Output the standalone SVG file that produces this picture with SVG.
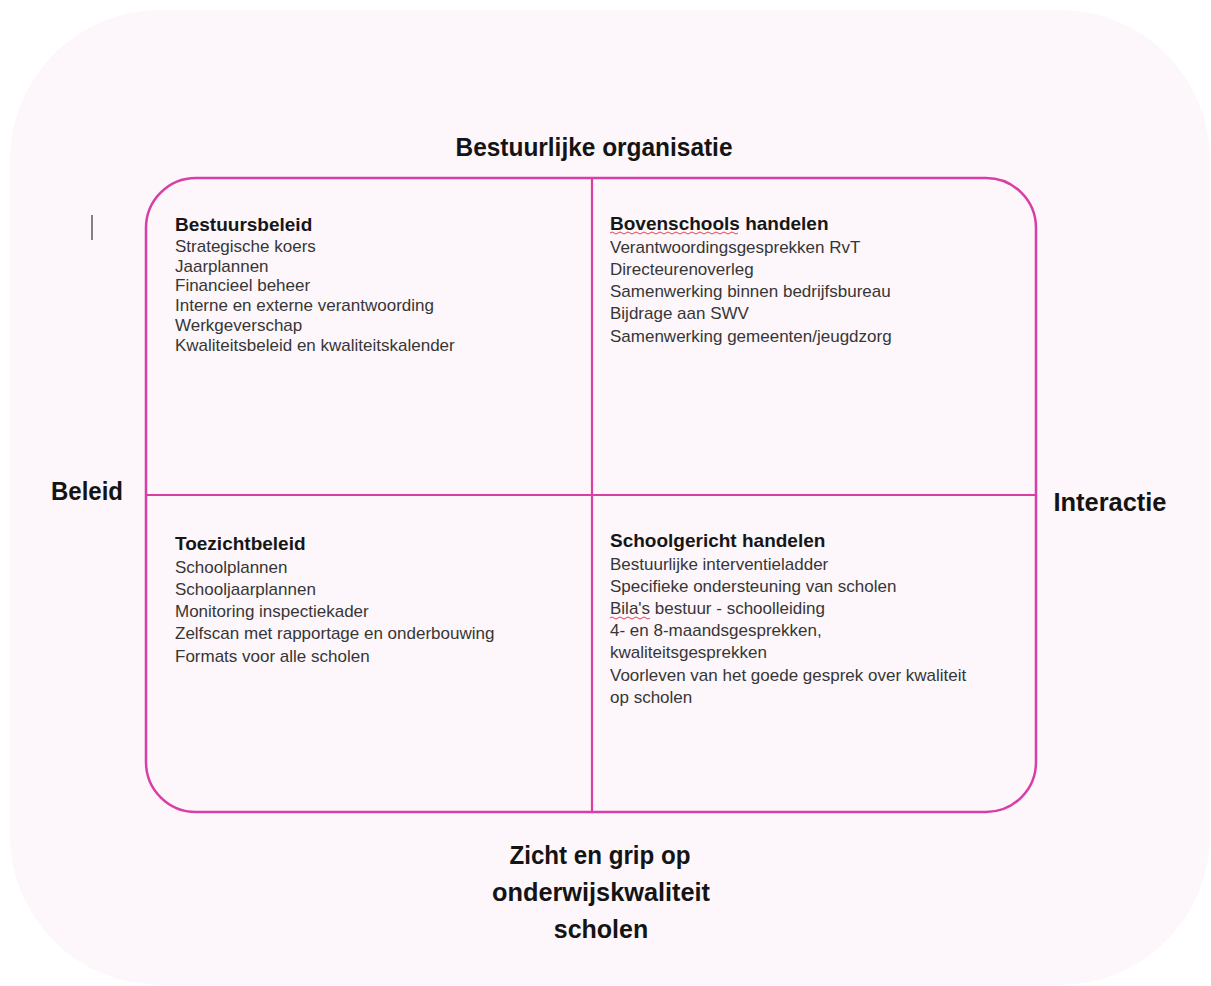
<svg xmlns="http://www.w3.org/2000/svg" width="1211" height="986" viewBox="0 0 1211 986">
<defs>
<style>
.bg{fill:#fdf6fb;stroke:none}
.frame{fill:none;stroke:#d73fa7;stroke-width:2.5}
.div{stroke:#d73fa7;stroke-width:2.2;fill:none}
.axis{font-family:"Liberation Sans",Arial,sans-serif;font-weight:bold;font-size:25px;fill:#141414}
.ttl{font-family:"Liberation Sans",Arial,sans-serif;font-weight:bold;font-size:19px;fill:#161616}
.item{font-family:"Liberation Sans",Arial,sans-serif;font-size:17px;fill:#363636}
.wave{fill:none;stroke:#e0454f;stroke-width:1}
</style>
</defs>
<rect width="1211" height="986" fill="#ffffff"/>
<rect class="bg" x="10" y="10" width="1200" height="975" rx="150" ry="150"/>
<line x1="92" y1="215" x2="92" y2="240" stroke="#333" stroke-width="1.2"/>

<g id="connectors">
<rect class="frame" x="146" y="178" width="890" height="634" rx="50" ry="50"/>
<line class="div" x1="592" y1="178" x2="592" y2="812"/>
<line class="div" x1="146" y1="495" x2="1036" y2="495"/>
</g>

<g id="axis-top"><text class="axis" x="594" y="156" text-anchor="middle" textLength="277" lengthAdjust="spacingAndGlyphs">Bestuurlijke organisatie</text></g>
<g id="axis-left"><text class="axis" x="87" y="500" text-anchor="middle" textLength="72" lengthAdjust="spacingAndGlyphs">Beleid</text></g>
<g id="axis-right"><text class="axis" x="1110" y="511" text-anchor="middle" textLength="113" lengthAdjust="spacingAndGlyphs">Interactie</text></g>
<g id="axis-bottom">
<text class="axis" x="600" y="864" text-anchor="middle" textLength="181" lengthAdjust="spacingAndGlyphs">Zicht en grip op</text>
<text class="axis" x="601" y="901" text-anchor="middle" textLength="218" lengthAdjust="spacingAndGlyphs">onderwijskwaliteit</text>
<text class="axis" x="601" y="938" text-anchor="middle">scholen</text>
</g>

<g id="bestuursbeleid">
<text class="ttl" x="175" y="231">Bestuursbeleid</text>
<text class="item" x="175" y="252">Strategische koers</text>
<text class="item" x="175" y="272">Jaarplannen</text>
<text class="item" x="175" y="291">Financieel beheer</text>
<text class="item" x="175" y="311">Interne en externe verantwoording</text>
<text class="item" x="175" y="331">Werkgeverschap</text>
<text class="item" x="175" y="351">Kwaliteitsbeleid en kwaliteitskalender</text>
</g>

<g id="bovenschools-handelen">
<text class="ttl" x="610" y="230">Bovenschools handelen</text>
<path class="wave" d="M610 233 q2 -2 4 0 t4 0 t4 0 t4 0 t4 0 t4 0 t4 0 t4 0 t4 0 t4 0 t4 0 t4 0 t4 0 t4 0 t4 0 t4 0 t4 0 t4 0 t4 0 t4 0 t4 0 t4 0 t4 0 t4 0 t4 0 t4 0 t4 0 t4 0 t4 0 t4 0 t4 0 t4 0"/>
<text class="item" x="610" y="253">Verantwoordingsgesprekken RvT</text>
<text class="item" x="610" y="275">Directeurenoverleg</text>
<text class="item" x="610" y="297">Samenwerking binnen bedrijfsbureau</text>
<text class="item" x="610" y="319">Bijdrage aan SWV</text>
<text class="item" x="610" y="342">Samenwerking gemeenten/jeugdzorg</text>
</g>

<g id="toezichtbeleid">
<text class="ttl" x="175" y="550">Toezichtbeleid</text>
<text class="item" x="175" y="573">Schoolplannen</text>
<text class="item" x="175" y="595">Schooljaarplannen</text>
<text class="item" x="175" y="617">Monitoring inspectiekader</text>
<text class="item" x="175" y="639">Zelfscan met rapportage en onderbouwing</text>
<text class="item" x="175" y="662">Formats voor alle scholen</text>
</g>

<g id="schoolgericht-handelen">
<text class="ttl" x="610" y="547">Schoolgericht handelen</text>
<text class="item" x="610" y="570">Bestuurlijke interventieladder</text>
<text class="item" x="610" y="592">Specifieke ondersteuning van scholen</text>
<text class="item" x="610" y="614">Bila's bestuur - schoolleiding</text>
<path class="wave" d="M610 618 q2 -2 4 0 t4 0 t4 0 t4 0 t4 0 t4 0 t4 0 t4 0 t4 0 t4 0"/>
<text class="item" x="610" y="636">4- en 8-maandsgesprekken,</text>
<text class="item" x="610" y="658">kwaliteitsgesprekken</text>
<text class="item" x="610" y="681">Voorleven van het goede gesprek over kwaliteit</text>
<text class="item" x="610" y="703">op scholen</text>
</g>
</svg>
